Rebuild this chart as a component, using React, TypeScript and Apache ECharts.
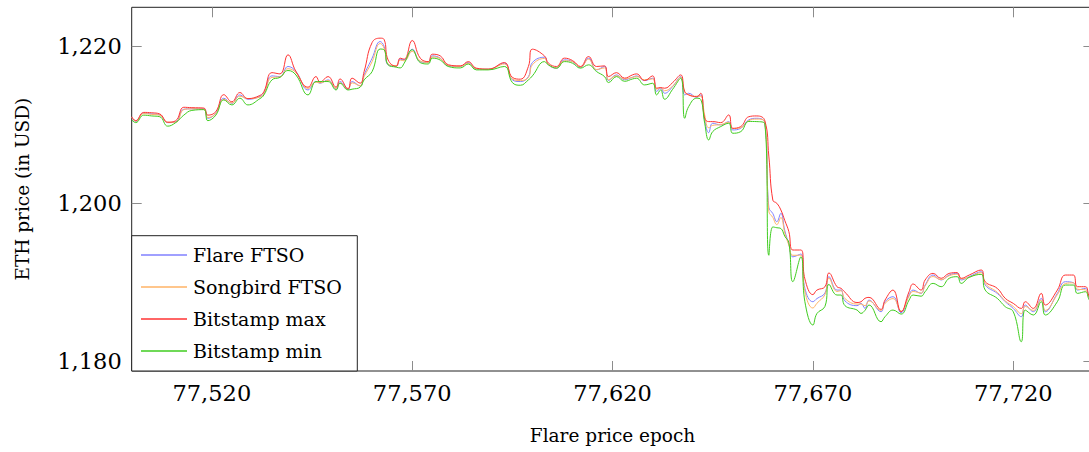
import React, { useEffect, useRef } from "react";
import * as echarts from "echarts";

// ---- data ----
const epochs = [
  77500, 77501, 77503, 77505, 77507, 77509, 77511, 77513, 77515, 77518, 77519, 77521, 77523, 77525, 77527, 77529,
  77532, 77533, 77535, 77537, 77539, 77541, 77544, 77546, 77547, 77549, 77551, 77552, 77554, 77555, 77557, 77558,
  77560, 77562, 77563, 77564, 77566, 77567, 77568, 77570, 77572, 77574, 77575, 77577, 77579, 77582, 77584, 77586,
  77589, 77593, 77595, 77597, 77599, 77600, 77603, 77604, 77606, 77608, 77610, 77612, 77614, 77616, 77618, 77619,
  77621, 77623, 77625, 77626, 77628, 77630, 77631, 77632, 77633, 77635, 77637, 77638, 77639, 77641, 77642, 77643,
  77644, 77645, 77647, 77649, 77650, 77652, 77654, 77656, 77658, 77659, 77660, 77661, 77662, 77663, 77664, 77665,
  77667, 77668, 77670, 77671, 77673, 77674, 77676, 77677, 77678, 77681, 77682, 77683, 77684, 77687, 77688, 77690,
  77692, 77694, 77695, 77697, 77698, 77700, 77702, 77704, 77706, 77707, 77709, 77712, 77713, 77716, 77718, 77720,
  77722, 77723, 77725, 77727, 77728, 77731, 77733, 77735, 77736, 77738, 77739, 77740,
];

const flareFtso = [
  1210.93, 1210.4, 1211.45, 1211.35, 1211.23, 1210.25, 1210.34, 1211.95, 1212.0, 1212.0, 1210.8, 1211.45, 1213.35, 1212.7, 1213.77, 1213.22,
  1213.56, 1213.98, 1216.19, 1216.1, 1217.38, 1216.74, 1214.4, 1215.47, 1215.26, 1215.68, 1214.5, 1215.47, 1214.5, 1215.47, 1214.9, 1216.32,
  1218.44, 1220.55, 1219.92, 1217.59, 1217.46, 1218.3, 1218.22, 1219.58, 1218.0, 1217.88, 1218.73, 1218.44, 1217.46, 1217.38, 1217.88, 1217.08,
  1217.04, 1217.8, 1215.68, 1215.47, 1216.1, 1217.88, 1218.56, 1217.59, 1217.17, 1218.22, 1218.0, 1217.25, 1218.44, 1216.95, 1217.38, 1215.6,
  1216.32, 1215.7, 1216.02, 1216.19, 1215.6, 1215.89, 1214.2, 1214.62, 1213.98, 1214.83, 1216.1, 1213.77, 1213.98, 1213.47, 1213.77, 1210.59,
  1208.98, 1210.17, 1209.96, 1210.38, 1209.32, 1209.53, 1210.6, 1210.8, 1210.2, 1199.5, 1198.7, 1197.67, 1198.73, 1196.5, 1194.8, 1193.2,
  1193.56, 1189.2, 1187.5, 1187.9, 1188.6, 1190.68, 1188.98, 1188.98, 1187.6, 1187.0, 1187.29, 1186.65, 1187.71, 1186.23, 1187.5, 1188.14,
  1186.1, 1188.35, 1188.98, 1188.56, 1189.62, 1190.89, 1190.26, 1190.89, 1191.1, 1190.26, 1190.68, 1191.31, 1189.62, 1188.56, 1187.5, 1186.65,
  1185.6, 1187.08, 1186.23, 1187.93, 1186.23, 1188.56, 1190.04, 1189.92, 1188.98, 1189.2, 1187.93, 1187.6,
];

const songbirdFtso = [
  1210.9, 1210.45, 1211.4, 1211.3, 1211.2, 1210.3, 1210.3, 1211.9, 1212.0, 1211.95, 1210.9, 1211.4, 1213.2, 1212.75, 1213.6, 1213.3,
  1213.5, 1213.9, 1216.0, 1216.05, 1217.1, 1216.6, 1214.6, 1215.4, 1215.3, 1215.6, 1214.6, 1215.3, 1214.6, 1215.3, 1214.95, 1216.1,
  1218.0, 1220.3, 1219.7, 1217.7, 1217.5, 1218.2, 1218.1, 1219.3, 1218.1, 1217.9, 1218.6, 1218.4, 1217.5, 1217.4, 1217.8, 1217.1,
  1217.05, 1217.7, 1215.8, 1215.6, 1216.0, 1217.6, 1218.4, 1217.6, 1217.2, 1218.1, 1218.0, 1217.3, 1218.3, 1217.0, 1217.2, 1215.7,
  1216.2, 1215.8, 1216.0, 1216.1, 1215.7, 1215.8, 1214.5, 1214.7, 1214.3, 1214.9, 1216.0, 1214.2, 1213.8, 1213.6, 1213.6, 1211.2,
  1209.6, 1209.9, 1210.0, 1210.3, 1209.5, 1209.6, 1210.5, 1210.7, 1210.3, 1199.0, 1198.2, 1197.3, 1198.2, 1196.2, 1194.7, 1193.4,
  1193.4, 1188.8, 1186.7, 1187.3, 1188.4, 1190.5, 1188.8, 1188.9, 1187.9, 1187.2, 1187.2, 1187.0, 1187.6, 1186.4, 1187.3, 1187.9,
  1186.3, 1188.2, 1188.8, 1188.6, 1189.5, 1190.7, 1190.3, 1190.8, 1191.0, 1190.4, 1190.6, 1191.2, 1189.8, 1188.7, 1187.6, 1186.9,
  1186.0, 1186.9, 1186.4, 1187.7, 1186.4, 1188.4, 1189.8, 1189.9, 1189.1, 1189.0, 1188.0, 1187.7,
];

const bitstampMax = [
  1211.0, 1210.5, 1211.55, 1211.5, 1211.35, 1210.3, 1210.5, 1212.2, 1212.15, 1212.1, 1211.2, 1211.65, 1213.8, 1212.9, 1214.07, 1213.3,
  1213.7, 1214.2, 1216.6, 1216.44, 1218.86, 1216.74, 1214.75, 1216.1, 1215.4, 1216.1, 1214.75, 1215.8, 1214.5, 1215.9, 1215.26, 1216.74,
  1220.43, 1220.98, 1220.8, 1218.2, 1217.4, 1218.44, 1218.3, 1220.68, 1218.44, 1218.0, 1218.94, 1218.73, 1217.6, 1217.46, 1218.0, 1217.17,
  1217.04, 1217.88, 1216.0, 1215.77, 1217.38, 1219.58, 1218.73, 1217.8, 1217.38, 1218.44, 1218.14, 1217.38, 1218.65, 1217.38, 1217.46, 1216.1,
  1216.6, 1215.9, 1216.32, 1216.44, 1215.6, 1216.19, 1214.62, 1214.7, 1214.62, 1215.34, 1216.31, 1214.2, 1213.77, 1213.55, 1213.98, 1210.8,
  1210.38, 1210.38, 1210.25, 1211.23, 1209.53, 1209.75, 1211.0, 1211.1, 1210.5, 1206.0, 1200.4, 1200.0, 1199.16, 1197.8, 1196.4, 1194.07,
  1194.07, 1190.4, 1188.4, 1188.98, 1189.4, 1191.15, 1189.41, 1189.2, 1188.7, 1187.4, 1187.5, 1187.93, 1188.05, 1186.53, 1187.71, 1188.98,
  1186.23, 1188.77, 1189.75, 1188.98, 1190.26, 1191.1, 1190.47, 1191.1, 1191.2, 1190.47, 1190.89, 1191.53, 1190.04, 1189.2, 1187.93, 1187.29,
  1186.65, 1187.5, 1186.65, 1188.56, 1187.08, 1188.98, 1190.89, 1190.89, 1189.41, 1189.41, 1188.14, 1187.8,
];

const bitstampMin = [
  1210.6, 1210.25, 1211.2, 1211.1, 1211.0, 1209.8, 1210.26, 1211.2, 1211.8, 1211.9, 1210.5, 1211.2, 1213.14, 1212.5, 1213.35, 1212.5,
  1213.3, 1213.77, 1215.68, 1216.0, 1216.87, 1216.3, 1213.77, 1215.47, 1215.47, 1215.47, 1214.4, 1215.26, 1214.4, 1214.5, 1214.75, 1215.68,
  1216.74, 1219.6, 1219.5, 1217.59, 1217.3, 1217.2, 1217.8, 1219.5, 1217.88, 1217.7, 1218.44, 1218.2, 1217.38, 1217.2, 1217.7, 1216.95,
  1216.95, 1217.38, 1215.34, 1215.0, 1215.68, 1216.19, 1218.0, 1217.59, 1217.17, 1218.0, 1217.8, 1217.17, 1217.59, 1216.74, 1216.1, 1215.34,
  1216.1, 1215.5, 1215.8, 1215.89, 1215.04, 1215.25, 1213.77, 1214.4, 1213.22, 1214.49, 1215.89, 1210.8, 1212.29, 1213.35, 1213.2, 1210.17,
  1208.05, 1209.11, 1209.75, 1210.17, 1208.9, 1209.11, 1210.4, 1210.38, 1210.1, 1193.4, 1197.0, 1196.9, 1196.8, 1195.8, 1195.0, 1190.05,
  1193.2, 1187.5, 1184.54, 1186.0, 1186.9, 1189.7, 1188.35, 1188.35, 1187.0, 1186.45, 1186.02, 1186.4, 1187.08, 1184.96, 1185.6, 1186.44,
  1185.93, 1187.71, 1188.35, 1188.2, 1188.77, 1189.83, 1189.41, 1190.47, 1190.68, 1189.83, 1190.6, 1190.98, 1188.98, 1187.93, 1186.87, 1186.23,
  1182.42, 1186.44, 1185.81, 1187.5, 1185.81, 1187.5, 1189.62, 1189.62, 1188.56, 1188.77, 1187.71, 1187.4,
];

const seriesNames = ["Flare FTSO", "Songbird FTSO", "Bitstamp max", "Bitstamp min"];
const seriesColors = ["#8080ff", "#ffb366", "#ff3333", "#3fcc1f"];
const xTicks = [77520, 77570, 77620, 77670, 77720];
const yTicks = [1180, 1200, 1220];
const xRange = [77500, 77740];
const yRange = [1178.7, 1224.9];

const FONT = "'DejaVu Serif', serif";
const CHART_W = 1096;
const CHART_H = 452;

const fmt = (v: number) => Math.round(v).toLocaleString("en-US");

function pairs(values: number[]) {
  return epochs.map((e, i) => [e, values[i]]);
}

export default function App() {
  const ref = useRef<HTMLDivElement>(null);
  useEffect(() => {
    const chart = echarts.init(ref.current!, undefined, { renderer: "svg" });
    const tickStyle = { color: "#8c8c8c", width: 1 };
    const allValues = [flareFtso, songbirdFtso, bitstampMax, bitstampMin];
    const option: any = {
      animation: false,
      backgroundColor: "#ffffff",
      textStyle: { fontFamily: FONT },
      grid: {
        left: 131.7,
        top: 7.3,
        right: CHART_W - 1093.4,
        bottom: CHART_H - 371,
        show: true,
        borderColor: "#222",
        borderWidth: 1,
        backgroundColor: "transparent",
      },
      graphic: [
        {
          type: "rect",
          z: 3,
          shape: { x: 131.7, y: 235.7, width: 225.6, height: 135.3 },
          style: { fill: "#ffffff", stroke: "#222", lineWidth: 1 },
        },
      ],
      legend: {
        show: true,
        orient: "vertical",
        left: 141,
        top: 244,
        padding: 0,
        itemGap: 10,
        itemWidth: 46,
        itemHeight: 1.3,
        icon: "rect",
        selectedMode: false,
        z: 5,
        itemStyle: { borderWidth: 0 },
        textStyle: { fontFamily: FONT, fontSize: 19, color: "#000", lineHeight: 22, padding: [0, 0, 0, 1] },
        data: seriesNames,
      },
      xAxis: [
        {
          type: "value",
          position: "bottom",
          min: xRange[0],
          max: xRange[1],
          name: "Flare price epoch",
          nameLocation: "middle",
          nameGap: 55,
          nameTextStyle: { fontFamily: FONT, fontSize: 18.5, color: "#000" },
          axisLine: { show: false },
          axisTick: { show: true, inside: true, length: 10, customValues: xTicks, lineStyle: tickStyle },
          axisLabel: {
            customValues: xTicks,
            formatter: (v: number) => fmt(v),
            margin: 10,
            fontFamily: FONT,
            fontSize: 22.5,
            color: "#000",
          },
          splitLine: { show: false },
        },
        {
          type: "value",
          position: "top",
          min: xRange[0],
          max: xRange[1],
          axisLine: { show: false },
          axisTick: { show: true, inside: true, length: 10, customValues: xTicks, lineStyle: tickStyle },
          axisLabel: { show: false, customValues: xTicks },
          splitLine: { show: false },
        },
      ],
      yAxis: [
        {
          type: "value",
          position: "left",
          min: yRange[0],
          max: yRange[1],
          name: "ETH price (in USD)",
          nameLocation: "middle",
          nameGap: 100,
          nameTextStyle: { fontFamily: FONT, fontSize: 18.5, color: "#000" },
          axisLine: { show: false },
          axisTick: { show: true, inside: true, length: 10, customValues: yTicks, lineStyle: tickStyle },
          axisLabel: {
            customValues: yTicks,
            formatter: (v: number) => fmt(v),
            margin: 10,
            fontFamily: FONT,
            fontSize: 22.5,
            color: "#000",
          },
          splitLine: { show: false },
        },
        {
          type: "value",
          position: "right",
          min: yRange[0],
          max: yRange[1],
          axisLine: { show: false },
          axisTick: { show: true, inside: true, length: 10, customValues: yTicks, lineStyle: tickStyle },
          axisLabel: { show: false, customValues: yTicks },
          splitLine: { show: false },
        },
      ],
      series: seriesNames.map((name, i) => ({
        name,
        type: "line",
        xAxisIndex: 0,
        yAxisIndex: 0,
        data: pairs(allValues[i]),
        showSymbol: false,
        symbol: "none",
        smooth: 0.45,
        lineStyle: { color: seriesColors[i], width: 1 },
        itemStyle: { color: seriesColors[i] },
        z: 2 + i * 0.01,
      })),
    };
    chart.setOption(option);
    return () => chart.dispose();
  }, []);
  return (
    <div
      style={{
        position: "fixed",
        left: 0,
        top: 0,
        width: 1089,
        height: CHART_H,
        overflow: "hidden",
        background: "#fff",
      }}
    >
      <div ref={ref} style={{ width: CHART_W, height: CHART_H }} />
    </div>
  );
}
